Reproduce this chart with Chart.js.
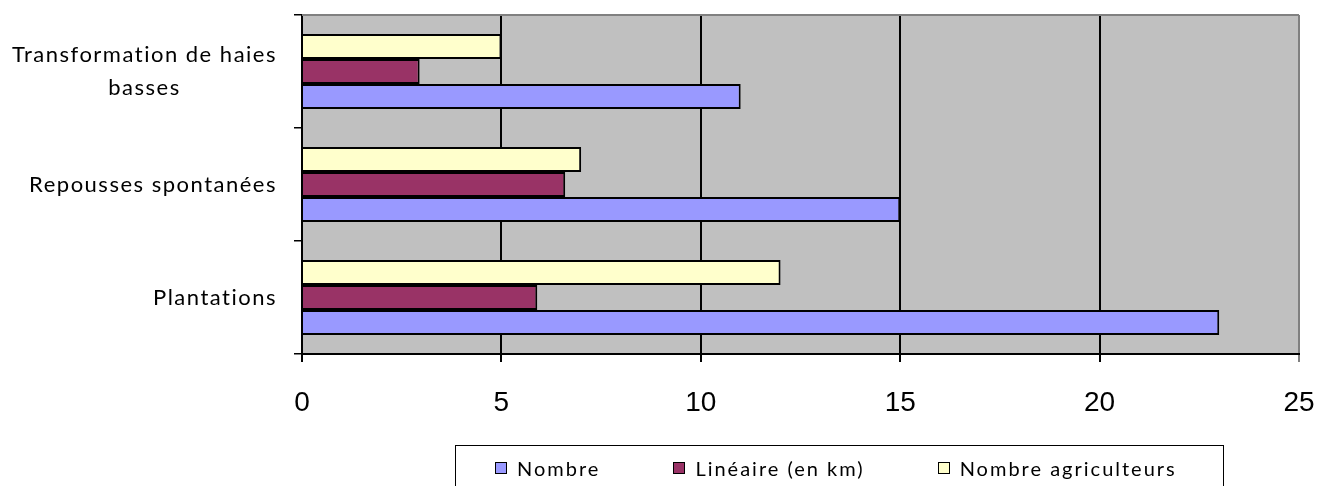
<!DOCTYPE html>
<html>
<head>
<meta charset="utf-8">
<script src="https://cdn.jsdelivr.net/npm/chart.js@4/dist/chart.umd.min.js"></script>
<style>
    html, body { margin: 0; padding: 0; background: #fff; overflow: hidden; }
    #wrap { position: relative; width: 1319px; height: 486px; }
    #legend {
        position: absolute; left: 455px; top: 445px; width: 769px; height: 46px;
        box-sizing: border-box; border: 1.5px solid #000;
        display: flex; align-items: center; padding-left: 39px; gap: 73px;
        font-family: Lato, sans-serif; font-size: 20px; letter-spacing: 2px; color: #000;
    }
    #legend .item { display: flex; align-items: center; white-space: nowrap; }
    #legend .sw { width: 10px; height: 10px; border: 1.5px solid #000; margin-right: 10px; }
</style>
</head>
<body>
<div id="wrap">
    <canvas id="chart" width="1319" height="486"></canvas>
    <div id="legend"></div>
</div>
<script>
// Data
const categories = [['Transformation de haies', 'basses'], 'Repousses spontanées', 'Plantations'];
const seriesNames = ['Nombre', 'Linéaire (en km)', 'Nombre agriculteurs'];
const nombre = [11, 15, 23];
const lineaire = [2.95, 6.6, 5.9];
const agriculteurs = [5, 7, 12];
const xTicks = [0, 5, 10, 15, 20, 25];

const colors = ['#9999FF', '#993366', '#FFFFCC'];
const values = [nombre, lineaire, agriculteurs];

// Chart.js puts the first dataset on top, the picture has Nombre at the bottom
const datasets = [2, 1, 0].map(i => ({
    label: seriesNames[i],
    data: values[i],
    backgroundColor: colors[i],
    borderColor: '#000',
    borderWidth: 2,
    barPercentage: 1,
    categoryPercentage: 0.664,
}));

// grey plot background + top border like the old Excel chart
const plotArea = {
    id: 'plotArea',
    beforeDraw(chart) {
        const { ctx, chartArea: a } = chart;
        ctx.save();
        ctx.fillStyle = '#C0C0C0';
        ctx.fillRect(a.left, a.top, a.right - a.left, a.bottom - a.top);
        ctx.restore();
    },
    afterDraw(chart) {
        const { ctx, chartArea: a } = chart;
        ctx.save();
        ctx.strokeStyle = '#808080';
        ctx.lineWidth = 2;
        ctx.beginPath();
        ctx.moveTo(a.left, a.top);
        ctx.lineTo(a.right, a.top);
        ctx.stroke();
        ctx.restore();
    }
};

// category names: block right aligned on the axis, lines centered inside the block
const categoryLabels = {
    id: 'categoryLabels',
    afterDraw(chart) {
        const { ctx } = chart;
        const y = chart.scales.y;
        const right = y.right - 8 - 17;
        ctx.save();
        ctx.font = '22px Lato';
        ctx.letterSpacing = '1.5px';
        ctx.fillStyle = '#000';
        ctx.textAlign = 'center';
        ctx.textBaseline = 'middle';
        categories.forEach((label, i) => {
            const lines = Array.isArray(label) ? label : [label];
            const w = Math.max(...lines.map(l => ctx.measureText(l).width));
            const cx = right - w / 2;
            const cy = y.getPixelForTick(i);
            lines.forEach((line, j) => {
                ctx.fillText(line, cx, cy + (j - (lines.length - 1) / 2) * 33);
            });
        });
        ctx.restore();
    }
};

const chart = new Chart(document.getElementById('chart'), {
    type: 'bar',
    data: { labels: categories, datasets: datasets },
    plugins: [plotArea, categoryLabels],
    options: {
        indexAxis: 'y',
        responsive: false,
        animation: false,
        layout: { padding: { top: 15, right: 20, left: 0, bottom: 0 } },
        plugins: {
            legend: { display: false },
            tooltip: { enabled: false },
        },
        scales: {
            x: {
                min: xTicks[0],
                max: xTicks[xTicks.length - 1],
                afterBuildTicks: s => { s.ticks = xTicks.map(v => ({ value: v })); },
                ticks: {
                    color: '#000',
                    padding: 24,
                    font: { family: 'Liberation Sans', size: 28 },
                },
                grid: {
                    color: c => (c.tick && c.tick.value === 25 ? '#808080' : '#000'),
                    lineWidth: 2,
                    tickLength: 8,
                },
                border: { color: '#000', width: 2 },
                afterFit: s => {
                    s.height = 132;
                    s.paddingLeft = 0;
                    s.paddingRight = 0;
                },
            },
            y: {
                ticks: { display: false },
                grid: { drawOnChartArea: false, tickLength: 8, color: '#000', lineWidth: 1.5 },
                border: { color: '#000', width: 2 },
                afterFit: s => {
                    s.width = 302;
                    s.paddingTop = 0;
                    s.paddingBottom = 0;
                },
            },
        },
    },
});

// legend box under the chart, same order as the picture
const legend = document.getElementById('legend');
seriesNames.forEach((name, i) => {
    const item = document.createElement('div');
    item.className = 'item';
    item.innerHTML = `<span class="sw" style="background:${colors[i]}"></span><span>${name}</span>`;
    legend.appendChild(item);
});
</script>
</body>
</html>
